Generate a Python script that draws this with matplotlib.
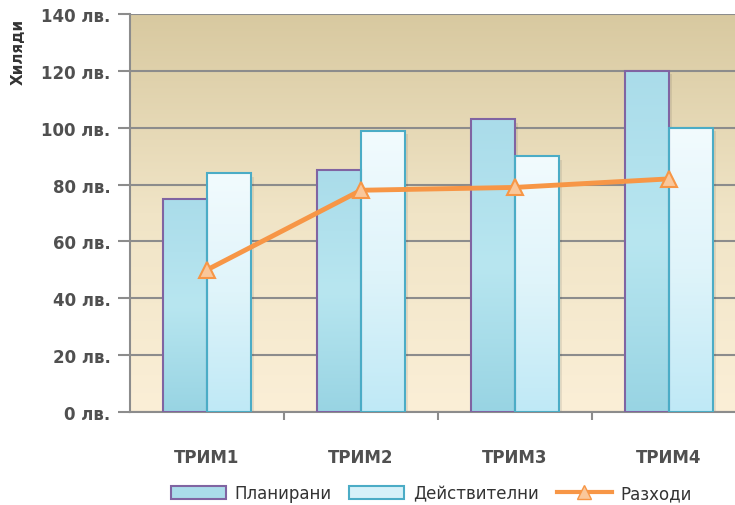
import numpy as np
import matplotlib.pyplot as plt
from matplotlib.patches import Rectangle
from matplotlib.lines import Line2D
from matplotlib.colors import LinearSegmentedColormap

quarters = ['ТРИМ1', 'ТРИМ2', 'ТРИМ3', 'ТРИМ4']
planned = [75, 85, 103, 120]
actual = [84, 99, 90, 100]
expenses = [50, 78, 79, 82]
yticks = [0, 20, 40, 60, 80, 100, 120, 140]
ytick_labels = [f'{v} лв.' for v in yticks]

plt.rcParams['font.family'] = ['DejaVu Sans']

fig = plt.figure(figsize=(7.35, 5.06), dpi=100)
ax = fig.add_axes([130 / 735, 1 - 413 / 506, 605 / 735, (413 - 15) / 506])

x = np.arange(len(quarters))
w = 0.286

# background gradient
bg = LinearSegmentedColormap.from_list('bg', ['#fbefd7', '#f0e4c6', '#d8c9a0'])
grad = np.linspace(0, 1, 256).reshape(-1, 1)
ax.imshow(grad, cmap=bg, aspect='auto', origin='lower',
          extent=[-0.5, 3.5, 0, 140], zorder=0)

ax.yaxis.grid(True, color='#8c8c8c', linewidth=1.5, zorder=1)
ax.set_axisbelow(True)

plan_cmap = LinearSegmentedColormap.from_list('plan', ['#98d4e3', '#b8e6f0', '#aadcea'])
act_cmap = LinearSegmentedColormap.from_list('act', ['#bfe9f6', '#dff4fa', '#f2fbfe'])

for i in range(len(quarters)):
    for val, off, cmap, ec in [(planned[i], -w / 2, plan_cmap, '#8064a2'),
                               (actual[i], w / 2, act_cmap, '#4bacc6')]:
        x0 = x[i] + off - w / 2
        # shadow
        ax.add_patch(Rectangle((x0 + 0.02, 0), w, val - 1.2, facecolor='#000000',
                               alpha=0.08, edgecolor='none', zorder=2))
        im = ax.imshow(grad, cmap=cmap, aspect='auto', origin='lower',
                       extent=[x0, x0 + w, 0, val], zorder=3)
        rect = Rectangle((x0, 0), w, val, facecolor='none', edgecolor=ec,
                         linewidth=1.5, zorder=4)
        ax.add_patch(rect)
        im.set_clip_path(rect)

ax.plot(x, expenses, color='#f79646', linewidth=3.5, marker='^', markersize=11,
        markerfacecolor='#fac79a', markeredgecolor='#f79646', markeredgewidth=1.5,
        zorder=5, solid_capstyle='round')

ax.set_xlim(-0.5, -0.5 + 605 / 154)
ax.set_ylim(0, 140)

ax.set_yticks(yticks)
ax.set_yticklabels(ytick_labels, fontsize=12, fontweight='bold', color='#505050')
ax.tick_params(axis='y', length=9, width=1.5, color='#8c8c8c', pad=5)

ax.set_xticks(x)
ax.set_xticklabels(quarters, fontsize=12, fontweight='bold', color='#505050')
ax.tick_params(axis='x', which='major', length=0, pad=26)
ax.set_xticks([0.5, 1.5, 2.5], minor=True)
ax.tick_params(axis='x', which='minor', length=6, width=1.5, color='#8c8c8c')

for s in ['top', 'right']:
    ax.spines[s].set_visible(False)
for s in ['left', 'bottom']:
    ax.spines[s].set_color('#8c8c8c')
    ax.spines[s].set_linewidth(1.5)

fig.text(18 / 735, 1 - 52 / 506, 'Хиляди', rotation=90, ha='center', va='center',
         fontsize=11, fontweight='bold', color='#333333')

handles = [
    Rectangle((0, 0), 1, 1, facecolor='#aadcea', edgecolor='#8064a2', linewidth=1.5),
    Rectangle((0, 0), 1, 1, facecolor='#d6f1f9', edgecolor='#4bacc6', linewidth=1.5),
    Line2D([], [], color='#f79646', linewidth=3, marker='^', markersize=10,
           markerfacecolor='#fac79a', markeredgecolor='#f79646'),
]
fig.legend(handles, ['Планирани', 'Действителни', 'Разходи'], loc='center',
           bbox_to_anchor=(431 / 735, 1 - 494 / 506), ncol=3, frameon=False,
           fontsize=12, handlelength=3.3, handleheight=0.8, columnspacing=1.1,
           handletextpad=0.5, labelcolor='#333333')

fig.savefig('out.png', dpi=100)
